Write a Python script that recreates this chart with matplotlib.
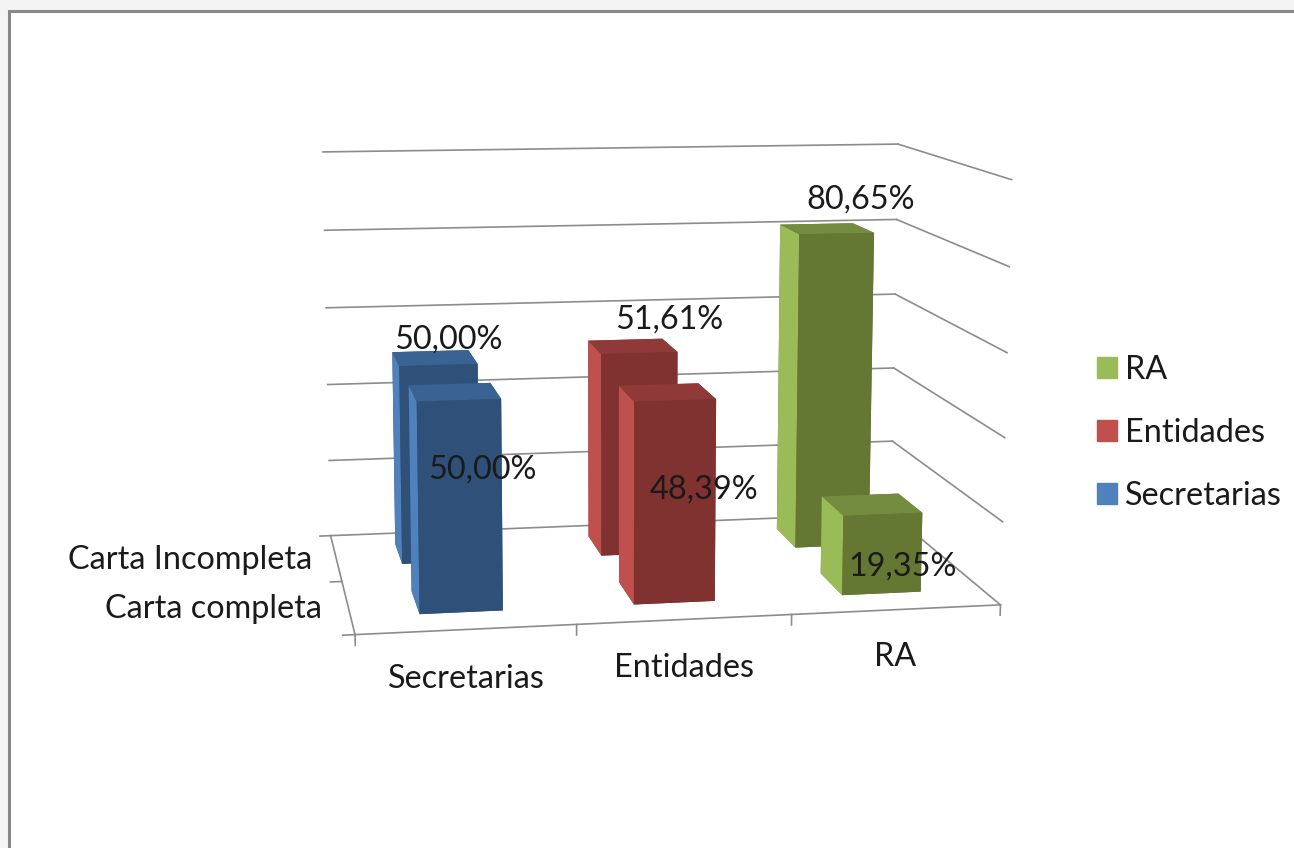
import matplotlib as mpl
mpl.use('Agg')
import matplotlib.pyplot as plt
from matplotlib.patches import Patch, Rectangle
from mpl_toolkits.mplot3d import proj3d

plt.rcParams['font.family'] = ['Lato', 'DejaVu Sans']

categories = ['Secretarias', 'Entidades', 'RA']
rows = ['Carta completa', 'Carta Incompleta']
completa = [50.00, 48.39, 19.35]
incompleta = [50.00, 51.61, 80.65]
grid_vals = [0, 20, 40, 60, 80, 100]
legend_labels = ['RA', 'Entidades', 'Secretarias']

W, H = 1294, 848
FS = 23.3
TXT = '#1a1a1a'

fig = plt.figure(figsize=(W / 100, H / 100), dpi=100, facecolor='#f4f4f4')
# frame of the screenshot
fig.add_artist(Rectangle((8.5 / W, -0.1), 2, 1.1 - 11.5 / H, transform=fig.transFigure,
                         fc='white', ec='#888888', lw=2.2, zorder=-5))

# camera fitted to the box corners of the original chart
dx, dy = -16.024, 37.021
ax = fig.add_axes([dx / W, ((H - W) / 2 + dy) / H, 1, W / H], projection='3d')
ax.patch.set_alpha(0)
ax.set_xlim(0, 3)
ax.set_ylim(0, 1)
ax.set_zlim(0, 100)
ax.view_init(9.885, -100.194, -0.115)
ax.set_proj_type('persp', focal_length=0.369)
ax.set_box_aspect((4, 2.542, 2.652), zoom=0.629)
ax.set_axis_off()
ax.computed_zorder = False

# ============= walls, floor and ticks ============= #
line = dict(color='#8c8c8c', lw=1.2, zorder=1)
for z in grid_vals:
    ax.plot([0, 3], [1, 1], [z, z], **line)
    ax.plot([3, 3], [1, 0], [z, z], **line)
ax.plot([0, 3], [0, 0], [0, 0], **line)
ax.plot([0, 0], [0, 1], [0, 0], **line)
for i in range(4):
    ax.plot([i, i], [0, 0], [0, -2.5], **line)
for y in [0, 0.5, 1]:
    ax.plot([0, -0.055], [y, y], [0, 0], **line)

# ============= bars ============= #
# faces: bottom, top, front, back, left, right
blue = ['#2f5179', '#3a6393', '#2f5179', '#2f5179', '#4f81bd', '#2f5179']
red = ['#7f3230', '#8f3a38', '#7f3230', '#7f3230', '#c0504d', '#7f3230']
green = ['#647733', '#748c40', '#647733', '#647733', '#9bbb59', '#647733']
cols = [blue, red, green]
zo = 2
for i in range(3):
    for y0, vals in ((0.655, incompleta), (0.155, completa)):
        ax.bar3d(i + 0.315, y0, 0, 0.385, 0.22, vals[i], color=cols[i], shade=False, lw=0, zorder=zo)
        zo += 1

# ============= labels ============= #
def pct(v):
    return ('%.2f%%' % v).replace('.', ',')


def label(x, y, z, s, ha='center'):
    # project by hand so the text sits in plain 2d axes coordinates
    u, v, _ = proj3d.proj_transform(x, y, z, ax.get_proj())
    ax.text2D(u, v, s, transform=ax.transData, ha=ha, va='center', fontsize=FS, color=TXT, zorder=50)


back_shift = [0.08, 0.20, 0.19]
back_lift = [4.5, 6.5, 7.3]
front_shift = [0.138, 0.195, 0.178]
front_frac = [0.62, 0.50, 0.16]
for i in range(3):
    label(i + 0.5 + back_shift[i], 0.775, incompleta[i] + back_lift[i], pct(incompleta[i]))
    label(i + 0.5 + front_shift[i], 0.285, completa[i] * front_frac[i], pct(completa[i]))
    label(i + 0.495, 0, -11.5, categories[i])
label(-0.12, 0.25, -0.3, rows[0], ha='right')
label(-0.12, 0.75, -0.3, rows[1], ha='right')

handles = [Patch(color=c, label=l) for c, l in zip(['#9bbb59', '#c0504d', '#4f81bd'], legend_labels)]
leg = fig.legend(handles=handles, loc='center left', bbox_to_anchor=(1097 / W, 1 - 433 / H), frameon=False,
                 fontsize=FS, handlelength=0.617, handleheight=0.617, handletextpad=0.25, labelspacing=1.01,
                 borderpad=0, borderaxespad=0)
for t in leg.get_texts():
    t.set_color(TXT)

fig.savefig('out.png', dpi=100, facecolor=fig.get_facecolor())
